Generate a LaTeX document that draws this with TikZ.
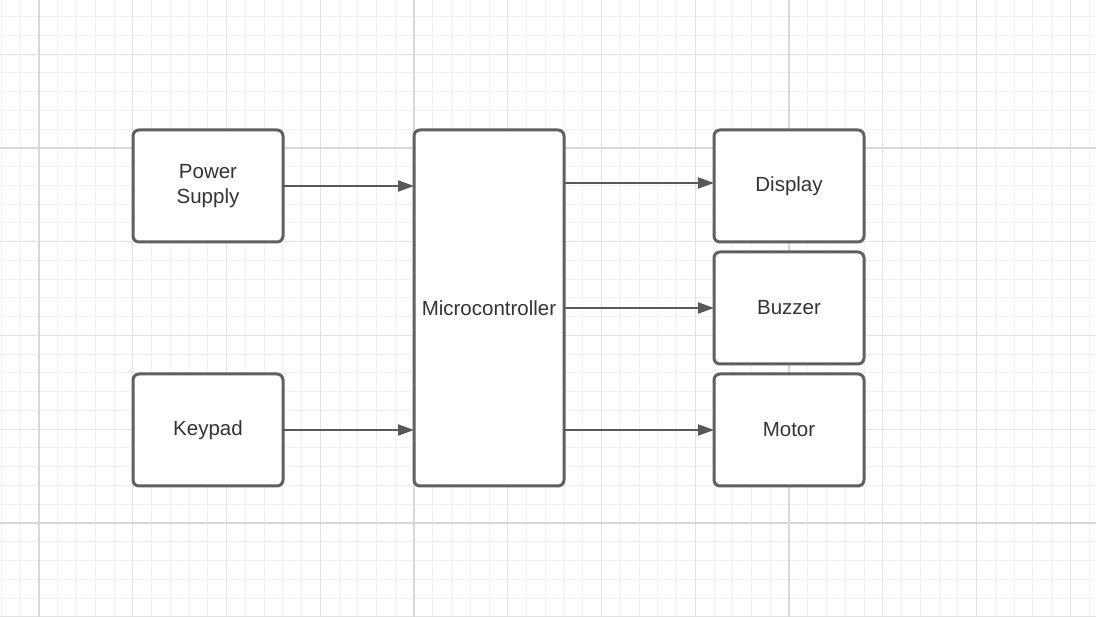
\documentclass[tikz,border=0pt]{standalone}
\usepackage{fontspec}
\setmainfont{Liberation Sans}
\usetikzlibrary{arrows.meta}
\definecolor{minorgrid}{HTML}{F0F0F0}
\definecolor{midgrid}{HTML}{E2E2E2}
\definecolor{majorgrid}{HTML}{D8D8D8}
\definecolor{boxline}{HTML}{606060}
\definecolor{arrline}{HTML}{585858}
\definecolor{labeltext}{HTML}{333333}
\begin{document}
\begin{tikzpicture}[x=1pt,y=-1pt,
  block/.style={draw=boxline,line width=3pt,fill=white,rounded corners=6pt,
    minimum width=150pt,minimum height=112pt,inner sep=0pt,outer sep=0pt,
    align=center,text=labeltext,font=\fontsize{20.5}{24.5}\selectfont},
  link/.style={draw=arrline,line width=2pt,-{Triangle[length=16pt,width=11pt]}},
  grid1/.style={minorgrid,line width=1pt},
  grid2/.style={midgrid,line width=1.2pt},
  grid3/.style={majorgrid,line width=1.6pt}]
\fill[white] (0,0) rectangle (1096,617);
\useasboundingbox (0,0) rectangle (1096,617);
% background grid
\foreach \i in {-2,...,56} \draw[grid1] ({39+18.75*\i},0) -- ({39+18.75*\i},617);
\foreach \j in {-7,...,25} \draw[grid1] (0,{148+18.75*\j}) -- (1096,{148+18.75*\j});
\foreach \i in {0,...,11} \draw[grid2] ({39+93.75*\i},0) -- ({39+93.75*\i},617);
\foreach \j in {-1,...,5} \draw[grid2] (0,{148+93.75*\j}) -- (1096,{148+93.75*\j});
\foreach \i in {0,1,2} \draw[grid3] ({39+375*\i},0) -- ({39+375*\i},617);
\foreach \j in {0,1} \draw[grid3] (0,{148+375*\j}) -- (1096,{148+375*\j});
% blocks
\node[block] (psu) at (208,186) {Power\\Supply};
\node[block] (kpd) at (208,430) {Keypad};
\node[block,minimum height=356pt] (mcu) at (489,308) {Microcontroller};
\node[block] (dsp) at (789,186) {Display};
\node[block] (bzr) at (789,308) {Buzzer};
\node[block] (mtr) at (789,430) {Motor};
% connections
\draw[link] (psu.east) -- (psu.east -| mcu.west);
\draw[link] (kpd.east) -- (kpd.east -| mcu.west);
\draw[link] ([yshift=3pt]dsp.west -| mcu.east) -- ([yshift=3pt]dsp.west);
\draw[link] (bzr.west -| mcu.east) -- (bzr.west);
\draw[link] (mtr.west -| mcu.east) -- (mtr.west);
\end{tikzpicture}
\end{document}
